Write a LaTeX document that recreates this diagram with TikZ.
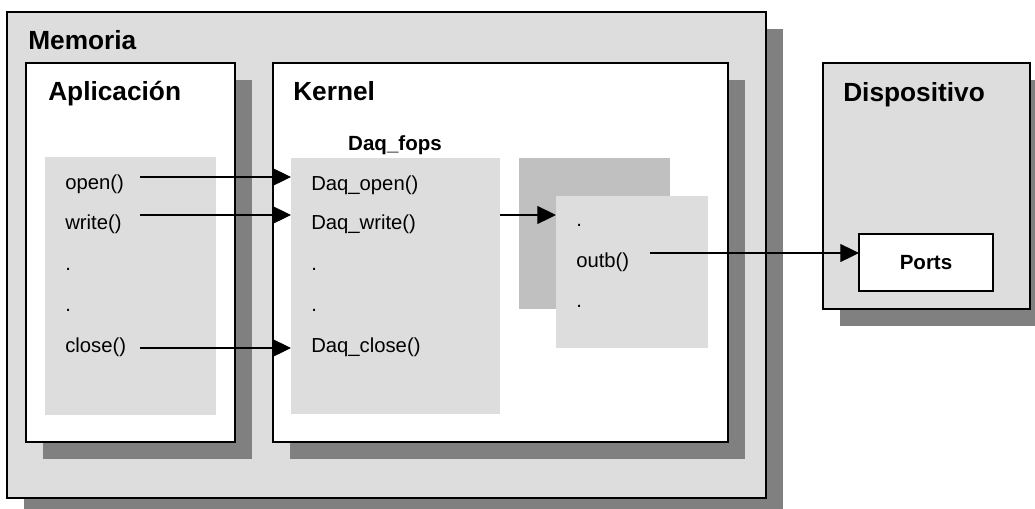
\documentclass[tikz,border=0pt]{standalone}
\usepackage{fontspec}
\setmainfont{Liberation Sans}
\usetikzlibrary{fit,shadows,arrows.meta}

\definecolor{panel}{RGB}{221,221,221}
\definecolor{shade}{RGB}{128,128,128}
\definecolor{stack}{RGB}{192,192,192}

\begin{document}
\begin{tikzpicture}[x=0.75pt,y=-0.75pt,
  area/.style={fit={#1}, inner sep=0pt, outer sep=0pt},
  frame/.style={draw=black, line width=1.1pt,
    drop shadow={shadow xshift=12.4pt, shadow yshift=-12.4pt, fill=shade, opacity=1}},
  title/.style={font=\fontsize{19.7}{23}\selectfont\bfseries, anchor=base west, inner sep=0pt},
  sub/.style={font=\fontsize{15.4}{18}\selectfont\bfseries, inner sep=0pt},
  entry/.style={font=\fontsize{15.2}{18}\selectfont, anchor=base west, inner sep=0pt},
  portbox/.style={draw=black, line width=1.1pt, fill=white, inner sep=0pt, outer sep=0pt,
    minimum width=100.5pt, minimum height=42.75pt, font=\fontsize{15.4}{18}\selectfont\bfseries},
  conn/.style={line width=0.8pt, -{Triangle[length=14pt,width=13.5pt]}}
]
\clip (0,0) rectangle (1035,508);
\fill[white] (0,0) rectangle (1035,508);

% framed blocks with their drop shadows
\node[area={(7,12) (766,498)}, frame, fill=panel] (memoria) {};
\node[area={(26,63) (235,442)}, frame, fill=white] (aplicacion) {};
\node[area={(273,63) (728,442)}, frame, fill=white] (kernel) {};
\node[area={(823,63) (1030,309)}, frame, fill=panel] (dispositivo) {};

% function tables
\node[area={(45,157) (216,415)}, fill=panel] (calls) {};
\node[area={(291,158) (500,414)}, fill=panel] (fops) {};
\node[area={(519,158) (670,309)}, fill=stack] (back) {};
\node[area={(556,196) (708,348)}, fill=panel] (front) {};

% device ports
\node[portbox] (ports) at (926,262.5) {Ports};

% headings
\node[title] (tmem) at (28,49.3) {Memoria};
\node[title] (tapp) at (48,100) {Aplicación};
\node[title] (tker) at (293,100) {Kernel};
\node[title] (tdev) at (843,101) {Dispositivo};
\node[sub, anchor=base] (tfops) at (395,150.5) {Daq\_fops};

% application calls
\node[entry] (a1) at (65,189) {open()};
\node[entry] (a2) at (65,229.5) {write()};
\node[entry] (a3) at (65,270.5) {.};
\node[entry] (a4) at (65,311) {.};
\node[entry] (a5) at (65,352) {close()};

% driver operations
\node[entry] (d1) at (311,190) {Daq\_open()};
\node[entry] (d2) at (311,229.5) {Daq\_write()};
\node[entry] (d3) at (311,270) {.};
\node[entry] (d4) at (311,311) {.};
\node[entry] (d5) at (311,352) {Daq\_close()};

% low-level routines
\node[entry] (k1) at (576,226.5) {.};
\node[entry] (k2) at (576,267) {outb()};
\node[entry] (k3) at (576,307.5) {.};

% connector start points
\coordinate (s1) at (140,177);
\coordinate (s2) at (140,215);
\coordinate (s3) at (140,348);
\coordinate (s5) at (650,253);

\draw[conn] (s1) -- (s1 -| fops.west);
\draw[conn] (s2) -- (s2 -| fops.west);
\draw[conn] (s3) -- (s3 -| fops.west);
\draw[conn] (fops.east |- s2) -- (front.west |- s2);
\draw[conn] (s5) -- (s5 -| ports.west);
\end{tikzpicture}
\end{document}
